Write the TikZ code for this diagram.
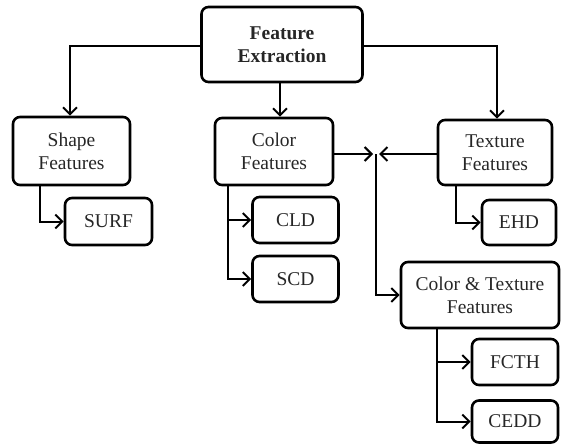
\documentclass[tikz,border=0pt]{standalone}
\usepackage{fontspec}
\setmainfont{Liberation Serif}
\usetikzlibrary{arrows.meta}
\begin{document}
\begin{tikzpicture}[x=1pt,y=-1pt,
  box/.style={draw, line width=2.6pt, rounded corners=7pt, inner sep=0pt, align=center,
    font=\fontsize{19.5}{23}\selectfont, text=black!85},
  conn/.style={line width=2pt, -{Straight Barb[length=7pt,width=14pt,line width=2pt]}},
  line/.style={line width=2pt}]
\useasboundingbox (0,0) rectangle (561,444);
\node[box, minimum width=161pt, minimum height=75pt, font=\fontsize{19.5}{23}\selectfont\bfseries] (fe) at (282,44.5) {Feature\\Extraction};
\node[box, minimum width=117pt, minimum height=68pt] (shape) at (71.5,151) {Shape\\Features};
\node[box, minimum width=87pt, minimum height=47pt] (surf) at (108.5,221.5) {SURF};
\node[box, minimum width=118pt, minimum height=67pt] (color) at (274,151.5) {Color\\Features};
\node[box, minimum width=86pt, minimum height=46pt] (cld) at (295.5,220) {CLD};
\node[box, minimum width=86pt, minimum height=46pt] (scd) at (295.5,279) {SCD};
\node[box, minimum width=114pt, minimum height=65pt] (texture) at (495,152.5) {Texture\\Features};
\node[box, minimum width=74pt, minimum height=45pt] (ehd) at (519,222.5) {EHD};
\node[box, minimum width=158pt, minimum height=66pt] (ct) at (480,295) {Color \& Texture\\Features};
\node[box, minimum width=86pt, minimum height=46pt] (fcth) at (515,362) {FCTH};
\node[box, minimum width=86pt, minimum height=42pt] (cedd) at (515,421.5) {CEDD};
% top connectors
\draw[conn] (fe.west |- 0,46) -| (shape.north -| 70,0);
\draw[conn] (fe.east |- 0,46) -| (texture.north -| 497,0);
\draw[conn] (fe.south -| 280,0) -- (color.north -| 280,0);
% sub connectors
\draw[conn] (shape.south -| 40,0) |- (surf.west);
\draw[conn] (color.south -| 228,0) |- (cld.west);
\draw[conn] (color.south -| 228,0) |- (scd.west);
\draw[conn] (texture.south -| 456,0) |- (ehd.west);
\draw[conn] (ct.south -| 437,0) |- (fcth.west);
\draw[conn] (ct.south -| 437,0) |- (cedd.west);
% junction
\coordinate (j) at (376,154);
\draw[conn] (color.east |- j) -- ([xshift=-3pt]j);
\draw[conn] (texture.west |- j) -- ([xshift=3pt]j);
\draw[conn] (j) |- (ct.west);
\end{tikzpicture}
\end{document}
